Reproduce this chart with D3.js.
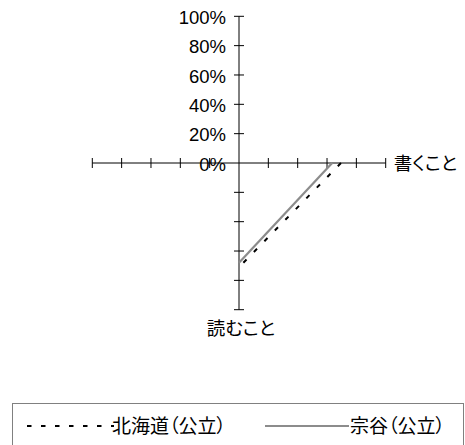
<!DOCTYPE html>
<html>
<head>
<meta charset="utf-8">
<script src="https://cdn.jsdelivr.net/npm/d3@7"></script>
<style>
  body { margin: 0; background: #fff; }
  text { fill: #000; }
  .jp { font-family: "Noto Sans CJK JP", sans-serif; font-feature-settings: "palt"; }
  .num { font-family: "Liberation Sans Narrow", "Arial Narrow", "Liberation Sans", sans-serif; }
</style>
</head>
<body>
<script>
// categories clockwise from the top (top and left are blank in the source)
var categories = ["", "書くこと", "読むこと", ""];
var tickValues = [0, 0.2, 0.4, 0.6, 0.8, 1.0];
var tickLabels = ["0%", "20%", "40%", "60%", "80%", "100%"];
var seriesNames = ["北海道（公立）", "宗谷（公立）"];
var hokkaido = [null, 0.695, 0.71, null];
var soya = [null, 0.635, 0.68, null];

var width = 465,
  height = 445;
var cx = 239,
  cy = 163,
  R = 146.7;

var svg = d3
  .select("body")
  .append("svg")
  .attr("width", width)
  .attr("height", height);

var r = d3.scaleLinear().domain([0, 1]).range([0, R]);
var angle = d3
  .scaleLinear()
  .domain([0, categories.length])
  .range([0, 2 * Math.PI]);

var g = svg.append("g").attr("transform", "translate(" + cx + "," + cy + ")");

//---------------------------------------- axes with ticks ----------------------------------------//
categories.forEach(function (c, i) {
  var a = angle(i);
  var ux = Math.sin(a),
    uy = -Math.cos(a);
  g.append("line")
    .attr("x1", 0)
    .attr("y1", 0)
    .attr("x2", ux * r(1))
    .attr("y2", uy * r(1))
    .attr("stroke", "#000")
    .attr("stroke-width", 1);
  tickValues.slice(1).forEach(function (t) {
    var px = ux * r(t),
      py = uy * r(t);
    g.append("line")
      .attr("x1", px - uy * 5)
      .attr("y1", py + ux * 5)
      .attr("x2", px + uy * 5)
      .attr("y2", py - ux * 5)
      .attr("stroke", "#000")
      .attr("stroke-width", 1);
  });
});

// category labels
g.append("text")
  .attr("class", "jp")
  .attr("x", r(1) + 8)
  .attr("y", 0)
  .attr("dy", "0.36em")
  .style("font-size", "18.5px")
  .text(categories[1]);

g.append("text")
  .attr("class", "jp")
  .attr("x", 2)
  .attr("y", r(1) + 19)
  .attr("dy", "0.36em")
  .attr("text-anchor", "middle")
  .style("font-size", "18.5px")
  .text(categories[2]);

//---------------------------------------- series lines ----------------------------------------//
var line = d3
  .lineRadial()
  .defined(function (d) {
    return d != null;
  })
  .angle(function (d, i) {
    return angle(i);
  })
  .radius(function (d) {
    return r(d);
  });

g.append("path")
  .attr("d", line(soya))
  .attr("fill", "none")
  .attr("stroke", "#8c8c8c")
  .attr("stroke-width", 2.2);

g.append("path")
  .attr("d", line(hokkaido))
  .attr("fill", "none")
  .attr("stroke", "#000")
  .attr("stroke-width", 2)
  .attr("stroke-dasharray", "4.5,10.5");

// value labels along the top axis (drawn over the axis like the source)
tickValues.forEach(function (t, i) {
  g.append("text")
    .attr("class", "num")
    .attr("x", -13)
    .attr("y", -r(t) + 1)
    .attr("dy", "0.36em")
    .attr("text-anchor", "end")
    .style("font-size", "18.5px")
    .text(tickLabels[i]);
});

//---------------------------------------- legend ----------------------------------------//
var legend = svg.append("g");
legend
  .append("rect")
  .attr("x", 12.5)
  .attr("y", 403.5)
  .attr("width", 451)
  .attr("height", 60)
  .attr("fill", "#fff")
  .attr("stroke", "#808080")
  .attr("stroke-width", 1);

var legendItems = [
  { name: seriesNames[0], x: 27, len: 87, color: "#000", dash: "4.5,9.5", w: 2 },
  { name: seriesNames[1], x: 265, len: 84, color: "#8c8c8c", dash: null, w: 2.2 },
];

legendItems.forEach(function (d) {
  legend
    .append("line")
    .attr("x1", d.x)
    .attr("x2", d.x + d.len)
    .attr("y1", 426)
    .attr("y2", 426)
    .attr("stroke", d.color)
    .attr("stroke-width", d.w)
    .attr("stroke-dasharray", d.dash);
  legend
    .append("text")
    .attr("class", "jp")
    .attr("x", d.x + 85)
    .attr("y", 426)
    .attr("dy", "0.36em")
    .style("font-size", "19px")
    .text(d.name);
});
</script>
</body>
</html>
